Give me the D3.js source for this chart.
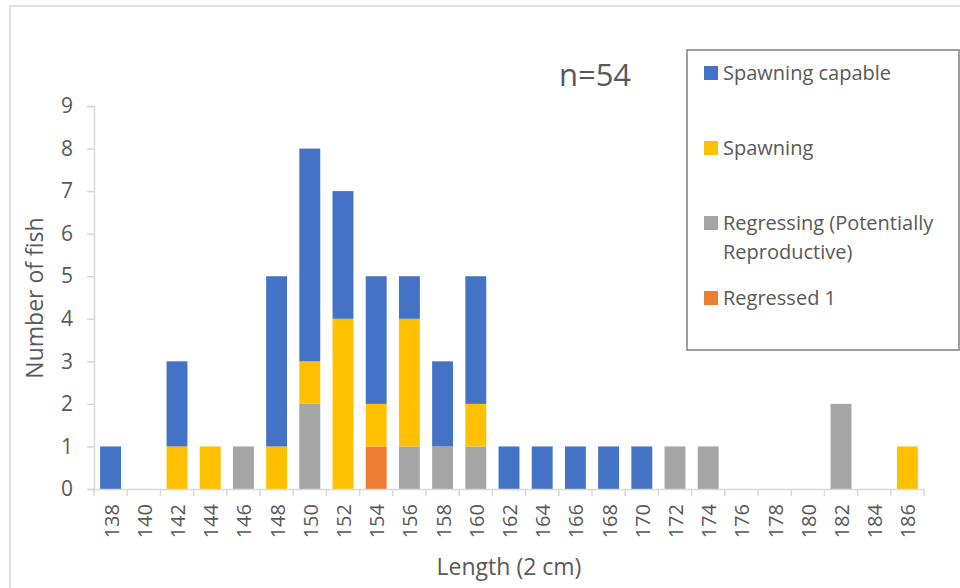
<!DOCTYPE html>
<html>
<head>
<meta charset="utf-8">
<script src="https://cdn.jsdelivr.net/npm/d3@7"></script>
<style>
    body { margin: 0; background: #fff; }
    text { font-family: "Open Sans", "Noto Sans", sans-serif; fill: #595959; }
</style>
</head>
<body>
<svg id="chart" width="960" height="588"></svg>
<script>
// categories (length classes) and counts per stage
let lengths = ["138","140","142","144","146","148","150","152","154","156","158","160","162",
               "164","166","168","170","172","174","176","178","180","182","184","186"];
let regressed1       = [0,0,0,0,0,0,0,0,1,0,0,0,0,0,0,0,0,0,0,0,0,0,0,0,0];
let regressing       = [0,0,0,0,1,0,2,0,0,1,1,1,0,0,0,0,0,1,1,0,0,0,2,0,0];
let spawning         = [0,0,1,1,0,1,1,4,1,3,0,1,0,0,0,0,0,0,0,0,0,0,0,0,1];
let spawningCapable  = [1,0,2,0,0,4,5,3,3,1,2,3,1,1,1,1,1,0,0,0,0,0,0,0,0];
let yTicks = [0,1,2,3,4,5,6,7,8,9];

let series = [
    {key: "regressed1", name: "Regressed 1", values: regressed1, color: "#ED7D31"},
    {key: "regressing", name: "Regressing (Potentially Reproductive)", values: regressing, color: "#A5A5A5"},
    {key: "spawning", name: "Spawning", values: spawning, color: "#FFC000"},
    {key: "capable", name: "Spawning capable", values: spawningCapable, color: "#4472C4"}
];

let rows = lengths.map(function (l, i) {
    let r = {length: l};
    series.forEach(function (s) { r[s.key] = s.values[i]; });
    return r;
});

let svg = d3.select("#chart");

// outer chart frame
svg.append("rect")
    .attr("x", 10).attr("y", 6)
    .attr("width", 970).attr("height", 600)
    .attr("fill", "none")
    .attr("stroke", "#d9d9d9")
    .attr("stroke-width", 1.5);

let plotLeft = 94, plotRight = 924, plotTop = 106, plotBottom = 489;

let xScale = d3.scaleBand()
    .domain(lengths)
    .range([plotLeft, plotRight])
    .paddingInner(0.37)
    .paddingOuter(0.185);

let yScale = d3.scaleLinear()
    .domain([0, 9])
    .range([plotBottom, plotTop]);

let stack = d3.stack().keys(series.map(function (s) { return s.key; }));
let stacked = stack(rows);

svg.append("g").selectAll("g")
    .data(stacked)
    .enter()
    .append("g")
    .attr("fill", function (d, i) { return series[i].color; })
    .selectAll("rect")
    .data(function (d) { return d; })
    .enter()
    .append("rect")
    .attr("x", function (d) { return xScale(d.data.length); })
    .attr("width", xScale.bandwidth())
    .attr("y", function (d) { return yScale(d[1]); })
    .attr("height", function (d) { return yScale(d[0]) - yScale(d[1]); });

// y axis
let yAxis = d3.axisLeft(yScale).tickValues(yTicks).tickSize(7).tickPadding(14);
let yg = svg.append("g")
    .attr("transform", "translate(" + plotLeft + ",0)")
    .call(yAxis);
yg.select(".domain").attr("stroke", "#d9d9d9").attr("stroke-width", 1.5);
yg.selectAll(".tick line").attr("stroke", "#d9d9d9").attr("stroke-width", 1.5);
yg.selectAll(".tick text").style("font-size", "21px").attr("fill", "#595959");

// x axis, ticks at category boundaries
let xAxis = d3.axisBottom(xScale).tickSize(0).tickPadding(0);
let xg = svg.append("g")
    .attr("transform", "translate(0," + plotBottom + ")")
    .call(xAxis);
xg.select(".domain").attr("stroke", "#d9d9d9").attr("stroke-width", 1.5);
xg.selectAll(".tick text")
    .style("font-size", "20px")
    .attr("fill", "#595959")
    .attr("transform", "translate(8,15) rotate(-90)")
    .attr("text-anchor", "end")
    .attr("dy", "0")
    .attr("x", 0).attr("y", 0);
let step = xScale.step();
let bounds = d3.range(lengths.length + 1).map(function (i) { return plotLeft + i * step; });
svg.append("g").selectAll("line")
    .data(bounds)
    .enter()
    .append("line")
    .attr("x1", function (d) { return d; })
    .attr("x2", function (d) { return d; })
    .attr("y1", plotBottom)
    .attr("y2", plotBottom + 7)
    .attr("stroke", "#d9d9d9")
    .attr("stroke-width", 1.5);

// axis titles
svg.append("text")
    .attr("transform", "translate(43,298) rotate(-90)")
    .attr("text-anchor", "middle")
    .style("font-size", "23px")
    .text("Number of fish");

svg.append("text")
    .attr("x", 509).attr("y", 575)
    .attr("text-anchor", "middle")
    .style("font-size", "23px")
    .text("Length (2 cm)");

svg.append("text")
    .attr("x", 595).attr("y", 86)
    .attr("text-anchor", "middle")
    .style("font-size", "31px")
    .text("n=54");

// legend
svg.append("rect")
    .attr("x", 687).attr("y", 50)
    .attr("width", 272).attr("height", 300)
    .attr("fill", "#fff")
    .attr("stroke", "#7f7f7f")
    .attr("stroke-width", 1.5);

let legendItems = [
    {s: series[3], y: 73, lines: ["Spawning capable"]},
    {s: series[2], y: 148, lines: ["Spawning"]},
    {s: series[1], y: 223, lines: ["Regressing (Potentially", "Reproductive)"]},
    {s: series[0], y: 298, lines: ["Regressed 1"]}
];

let lg = svg.append("g").selectAll("g")
    .data(legendItems)
    .enter()
    .append("g");
lg.append("rect")
    .attr("x", 704)
    .attr("y", function (d) { return d.y - 7; })
    .attr("width", 14).attr("height", 14)
    .attr("fill", function (d) { return d.s.color; });
lg.append("text")
    .attr("x", 723)
    .attr("y", function (d) { return d.y + 7; })
    .style("font-size", "20px")
    .selectAll("tspan")
    .data(function (d) { return d.lines; })
    .enter()
    .append("tspan")
    .attr("x", 723)
    .attr("dy", function (d, i) { return i === 0 ? 0 : 29; })
    .text(function (d) { return d; });
</script>
</body>
</html>
